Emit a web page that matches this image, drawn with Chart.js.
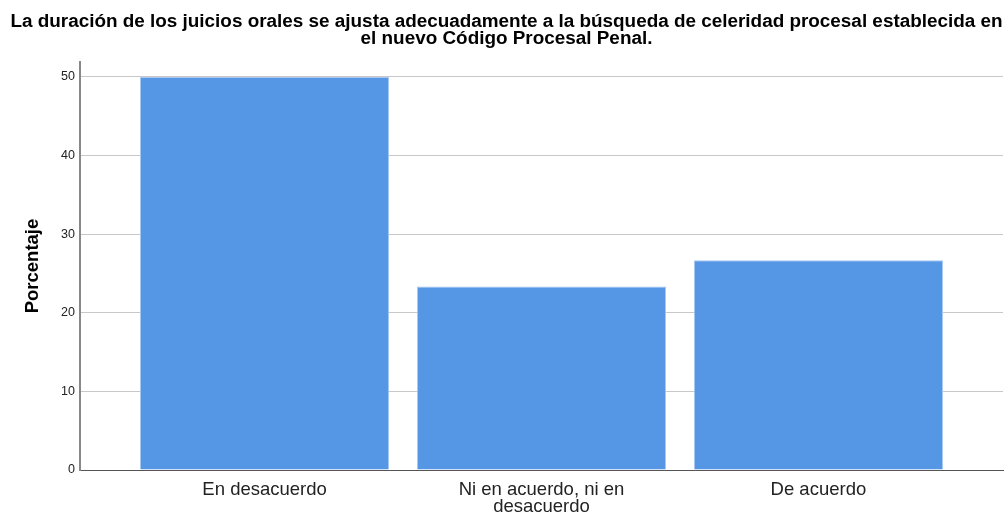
<!DOCTYPE html>
<html>
<head>
<meta charset="utf-8">
<script src="https://cdn.jsdelivr.net/npm/chart.js@4/dist/chart.umd.min.js"></script>
<style>
  html, body { margin: 0; padding: 0; background: #fff; }
  #wrap { width: 1008px; height: 516px; }
</style>
</head>
<body>
<div id="wrap"><canvas id="chart" width="1008" height="516"></canvas></div>
<script>
const titleLines = [
    "La duración de los juicios orales se ajusta adecuadamente a la búsqueda de celeridad procesal establecida en",
    "el nuevo Código Procesal Penal."
];
const categories = [
    ["En desacuerdo"],
    ["Ni en acuerdo, ni en", "desacuerdo"],
    ["De acuerdo"]
];
const porcentaje = [50.0, 23.33, 26.67];
const yTicks = [0, 10, 20, 30, 40, 50];

const fontFamily = "Arial, 'Liberation Sans', sans-serif";

const config = {
    type: "bar",
    data: {
        datasets: [{
            label: "Porcentaje",
            data: porcentaje.map((v, i) => ({ x: i, y: v })),
            backgroundColor: "#5596e5",
            borderColor: "#a9c9f1",
            borderWidth: 1,
            borderSkipped: "bottom",
            barPercentage: 0.9,
            categoryPercentage: 1.0,
        }],
    },
    options: {
        responsive: false,
        animation: false,
        layout: { padding: { left: 10, right: 5, top: 0, bottom: 0 } },
        plugins: {
            legend: { display: false },
            tooltip: { enabled: false },
            title: {
                display: true,
                text: titleLines,
                color: "#000",
                font: { family: fontFamily, size: 18.9, weight: "bold", lineHeight: 17 / 18.9 },
                padding: { top: 13, bottom: 15 },
            },
        },
        scales: {
            x: {
                type: "linear",
                offset: false,
                min: -2 / 3,
                max: 8 / 3,
                afterBuildTicks: axis => { axis.ticks = categories.map((c, i) => ({ value: i })); },
                afterFit: axis => { axis.height = 46; },
                grid: { display: false, drawTicks: false },
                border: { display: true, color: "#555", width: 1 },
                ticks: {
                    autoSkip: false,
                    maxRotation: 0,
                    padding: 11,
                    color: "#222",
                    font: { family: fontFamily, size: 18.5, lineHeight: 17.5 / 18.5 },
                    callback: value => categories[value] || "",
                },
            },
            y: {
                min: 0,
                max: 51.9,
                afterBuildTicks: axis => { axis.ticks = yTicks.map(v => ({ value: v })); },
                afterFit: axis => { axis.width = 70; },
                grid: { color: "#c8c8c8", lineWidth: 1, drawTicks: false },
                border: { display: true, color: "#888", width: 2 },
                ticks: {
                    padding: 5,
                    color: "#222",
                    font: { family: fontFamily, size: 12.5 },
                },
                title: {
                    display: true,
                    text: "Porcentaje",
                    color: "#000",
                    font: { family: fontFamily, size: 18.5, weight: "bold" },
                    padding: { top: 12, bottom: 0 },
                },
            },
        },
    },
};

const ctx = document.getElementById("chart").getContext("2d");
const chart = new Chart(ctx, config);
</script>
</body>
</html>
